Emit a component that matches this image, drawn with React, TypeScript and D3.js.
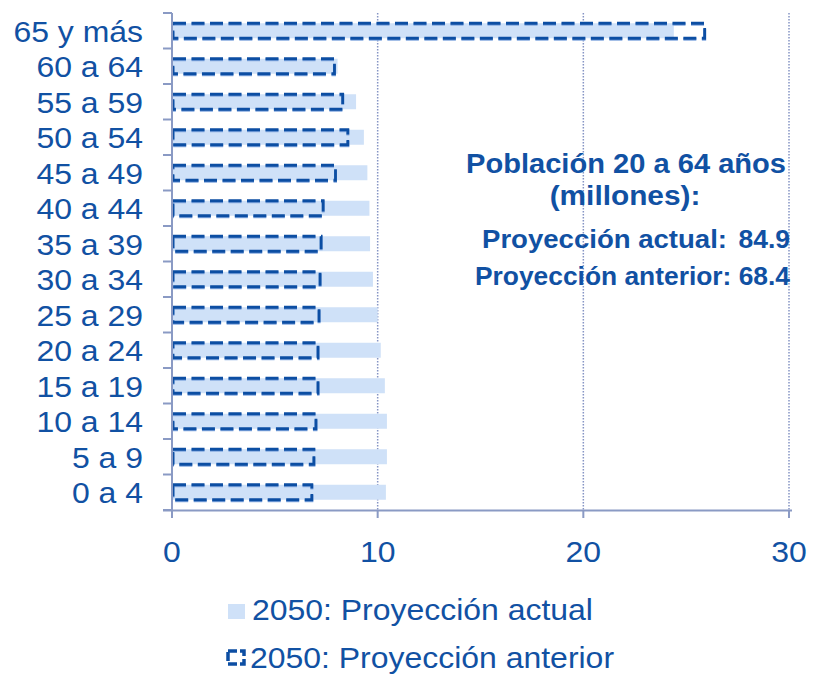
import React from "react";
import * as d3 from "d3";

const categories = ["65 y más", "60 a 64", "55 a 59", "50 a 54", "45 a 49", "40 a 44", "35 a 39", "30 a 34", "25 a 29", "20 a 24", "15 a 19", "10 a 14", "5 a 9", "0 a 4"];
const actual = [24.4, 8.05, 8.95, 9.33, 9.5, 9.6, 9.63, 9.77, 10.0, 10.15, 10.35, 10.45, 10.45, 10.4];
const anterior = [25.9, 7.9, 8.3, 8.55, 7.95, 7.35, 7.25, 7.2, 7.15, 7.1, 7.1, 7.0, 6.9, 6.8];
const xTicks = [0, 10, 20, 30];
const seriesNames = ["2050: Proyección actual", "2050: Proyección anterior"];
const noteTitle = ["Población 20 a 64 años", "(millones):"];
const noteRows = [
  { label: "Proyección actual:", value: "84.9" },
  { label: "Proyección anterior:", value: "68.4" },
];

const W = 819;
const H = 677;
const TEXT = "#1151a3";
const AXIS = "#8a9ac4";
const FILL = "#cfe1f8";
const DASH = "#0c4ea3";
const FONT = "'Liberation Sans', Arial, sans-serif";
const SX = 1.065;

function T(props: { x: number; y: number; anchor?: string; size: number; bold?: boolean; children: React.ReactNode }) {
  return (
    <g transform={`translate(${props.x},${props.y}) scale(${SX},1)`}>
      <text x={0} y={0} textAnchor={props.anchor || "start"} fontSize={props.size} fontWeight={props.bold ? "bold" : "normal"} fill={TEXT}>
        {props.children}
      </text>
    </g>
  );
}

export default function App() {
  const x = d3.scaleLinear().domain([0, 30]).range([172, 789]);
  const y = d3.scaleBand<string>().domain(categories).range([13, 510]);
  const step = y.step();
  const barH = 15;

  return (
    <svg width={W} height={H} style={{ position: "absolute", left: 0, top: 0, background: "#fff" }} fontFamily={FONT}>
      <rect x={0} y={0} width={W} height={H} fill="#fff" />
      {xTicks.filter((t) => t > 0).map((t) => (
        <line key={"g" + t} x1={x(t)} x2={x(t)} y1={13} y2={510} stroke="#8594c4" strokeWidth={1.5} strokeDasharray="1.5,1.5" />
      ))}
      {categories.map((c, i) => {
        const cy = (y(c) as number) + step / 2;
        return <rect key={"b" + c} x={x(0)} y={cy - barH / 2} width={x(actual[i]) - x(0)} height={barH} fill={FILL} />;
      })}
      {categories.map((c, i) => {
        const cy = (y(c) as number) + step / 2;
        return (
          <g key={"d" + c}>
            <rect x={x(0) + 1} y={cy - barH / 2 + 1} width={x(anterior[i]) - x(0) - 1} height={barH} fill="none" stroke="#86abe0" strokeWidth={3} strokeDasharray="13,5.5" />
            <rect x={x(0) + 1} y={cy - barH / 2} width={x(anterior[i]) - x(0) - 1} height={barH} fill="none" stroke={DASH} strokeWidth={2.8} strokeDasharray="13,5.5" />
          </g>
        );
      })}
      <line x1={x(0)} x2={x(0)} y1={13} y2={518} stroke={AXIS} strokeWidth={2} />
      {d3.range(categories.length + 1).map((k) => (
        <line key={"lt" + k} x1={163} x2={x(0)} y1={13 + k * step} y2={13 + k * step} stroke={AXIS} strokeWidth={2} />
      ))}
      <line x1={163} x2={x(30) + 3} y1={510.5} y2={510.5} stroke={AXIS} strokeWidth={2} />
      {xTicks.map((t) => (
        <g key={"xt" + t}>
          <line x1={x(t)} x2={x(t)} y1={510} y2={518} stroke={AXIS} strokeWidth={2} />
          <T x={x(t)} y={562} anchor="middle" size={30}>{t}</T>
        </g>
      ))}
      {categories.map((c) => (
        <T key={"l" + c} x={143} y={(y(c) as number) + step / 2 + 11} anchor="end" size={30}>{c}</T>
      ))}
      <text x={626} y={173} textAnchor="middle" fontSize={28} fontWeight="bold" fill={TEXT} textLength={320} lengthAdjust="spacingAndGlyphs">{noteTitle[0]}</text>
      <T x={625} y={205} anchor="middle" size={28} bold>{noteTitle[1]}</T>
      <text x={482} y={248} fontSize={26.5} fontWeight="bold" fill={TEXT} textLength={245} lengthAdjust="spacingAndGlyphs">{noteRows[0].label}</text>
      <text x={790} y={248} textAnchor="end" fontSize={26.5} fontWeight="bold" fill={TEXT}>{noteRows[0].value}</text>
      <text x={475} y={285} fontSize={26.5} fontWeight="bold" fill={TEXT} textLength={315} lengthAdjust="spacingAndGlyphs">{noteRows[1].label + " " + noteRows[1].value}</text>
      <rect x={228} y={604} width={17} height={15} fill={FILL} />
      <T x={252} y={620} size={30}>{seriesNames[0]}</T>
      <rect x={228} y={651} width={16} height={13} fill="none" stroke={DASH} strokeWidth={3.5} strokeDasharray="9,3" />
      <T x={250} y={668} size={30}>{seriesNames[1]}</T>
    </svg>
  );
}
